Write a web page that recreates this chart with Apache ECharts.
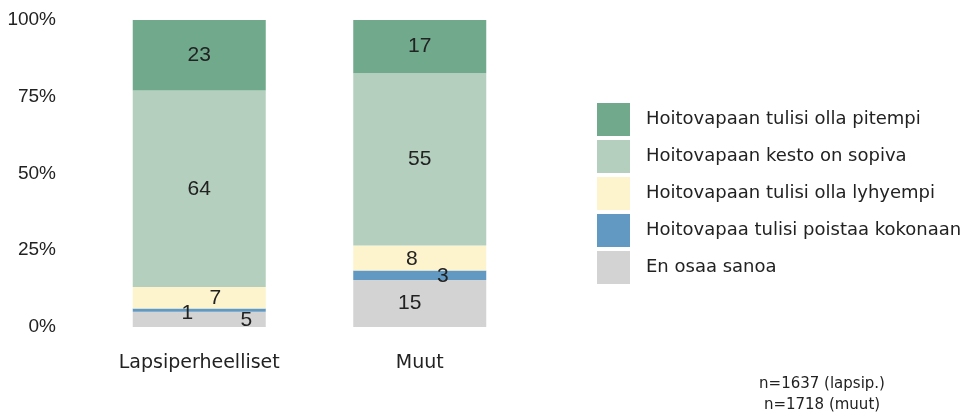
<!DOCTYPE html>
<html>
<head>
<meta charset="utf-8">
<script src="https://cdn.jsdelivr.net/npm/echarts@6/dist/echarts.min.js"></script>
<style>
  html, body { margin: 0; padding: 0; background: #fff; }
  #chart { width: 967px; height: 417px; }
</style>
</head>
<body>
<div id="chart"></div>
<script>
// Groups on the x axis
const categories = ['Lapsiperheelliset', 'Muut'];

// Answer shares per group (bottom to top in the stack)
const enOsaaSanoa = [5, 15];
const poistaaKokonaan = [1, 3];
const lyhyempi = [7, 8];
const sopiva = [64, 55];
const pitempi = [23, 17];

const yTicks = ['0%', '25%', '50%', '75%', '100%'];
const notes = ['n=1637 (lapsip.)', 'n=1718 (muut)'];

const seriesDefs = [
  { name: 'En osaa sanoa', values: enOsaaSanoa, color: '#d3d3d3', offsets: [[47, 1], [-10, 0]] },
  { name: 'Hoitovapaa tulisi poistaa kokonaan', values: poistaaKokonaan, color: '#6299c2', offsets: [[-12, 3], [23, 1]] },
  { name: 'Hoitovapaan tulisi olla lyhyempi', values: lyhyempi, color: '#fdf3cd', offsets: [[16, 0], [-8, 1]] },
  { name: 'Hoitovapaan kesto on sopiva', values: sopiva, color: '#b5cfbf', offsets: [[0, 0], [0, 0]] },
  { name: 'Hoitovapaan tulisi olla pitempi', values: pitempi, color: '#70a98b', offsets: [[0, 0], [0, 0]] }
];

// Each bar is scaled to 100 % of its own total
const totals = categories.map((_, i) => seriesDefs.reduce((s, d) => s + d.values[i], 0));

const uiFont = 'DejaVu Sans';
const numFont = 'Liberation Sans';

const series = seriesDefs.map(d => ({
  name: d.name,
  type: 'bar',
  stack: 'total',
  barWidth: 133,
  itemStyle: { color: d.color },
  emphasis: { disabled: true },
  data: d.values.map((v, i) => ({
    value: v / totals[i] * 100,
    raw: v,
    label: { offset: d.offsets[i] }
  })),
  label: {
    show: true,
    position: 'inside',
    fontFamily: numFont,
    fontSize: 21,
    color: '#222',
    formatter: p => String(p.data.raw)
  }
}));

const chart = echarts.init(document.getElementById('chart'), null, { renderer: 'canvas' });
chart.setOption({
  animation: false,
  backgroundColor: '#fff',
  grid: { left: 89, right: 437, top: 20, bottom: 90, containLabel: false },
  xAxis: {
    type: 'category',
    data: categories,
    axisLine: { show: false },
    axisTick: { show: false },
    axisLabel: { margin: 27, fontFamily: uiFont, fontSize: 19, color: '#222' }
  },
  yAxis: {
    type: 'value',
    min: 0,
    max: 100,
    interval: 25,
    splitLine: { show: false },
    axisLine: { show: false },
    axisTick: { show: false },
    axisLabel: {
      margin: 33,
      fontFamily: numFont,
      fontSize: 19,
      color: '#222',
      formatter: v => yTicks[Math.round(v / 25)]
    }
  },
  legend: {
    orient: 'vertical',
    left: 592,
    top: 98,
    itemWidth: 33,
    itemHeight: 33,
    itemGap: 4,
    icon: 'rect',
    selectedMode: false,
    data: seriesDefs.map(d => d.name).reverse(),
    textStyle: { fontFamily: uiFont, fontSize: 18, color: '#222', padding: [0, 0, 0, 11] }
  },
  graphic: notes.map((t, i) => ({
    type: 'text',
    x: 822,
    y: 384 + i * 21,
    style: {
      text: t,
      fontFamily: uiFont,
      fontSize: 15,
      fill: '#222',
      align: 'center',
      verticalAlign: 'middle'
    }
  })),
  series: series
});
</script>
</body>
</html>
